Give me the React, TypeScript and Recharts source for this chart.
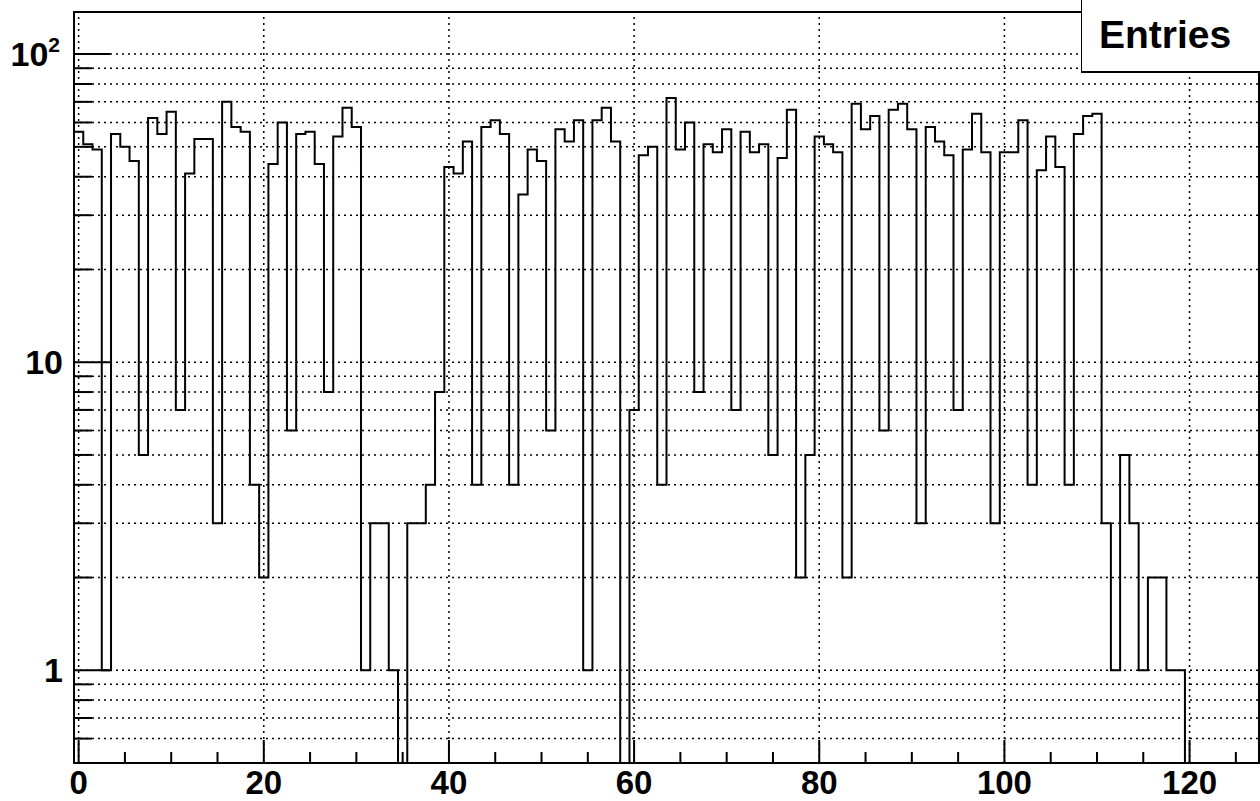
import React from 'react';
import { ComposedChart, Line, XAxis, YAxis, CartesianGrid, ReferenceLine, ReferenceArea } from 'recharts';

// Bin contents (bins of width 1 centred on 0..127)
const counts: number[] = [
  56, 51, 49, 1, 55, 50, 45, 5, 62, 55,
  65, 7, 41, 53, 53, 3, 70, 58, 56, 4,
  2, 44, 60, 6, 55, 56, 44, 8, 54, 67,
  58, 1, 3, 3, 1, 0, 3, 3, 4, 8,
  43, 41, 52, 4, 58, 61, 55, 4, 35, 49,
  45, 6, 57, 52, 61, 1, 61, 67, 52, 0,
  7, 47, 50, 4, 72, 49, 60, 8, 51, 48,
  57, 7, 56, 48, 51, 5, 46, 66, 2, 5,
  54, 51, 48, 2, 69, 57, 63, 6, 66, 69,
  57, 3, 58, 52, 47, 7, 49, 64, 48, 3,
  48, 48, 61, 4, 42, 54, 43, 4, 55, 63,
  64, 3, 1, 5, 3, 1, 2, 2, 1, 1,
  0, 0, 0, 0, 0, 0, 0, 0,
];

const X_MIN = -0.5;
const X_MAX = 127.5;
const BIN_WIDTH = 1;
const Y_MIN = 0.5;
const Y_MAX = 137;
const EMPTY_FLOOR = 0.1; // empty bins drawn below the frame (clipped)

const xTicks = [0, 5, 10, 15, 20, 25, 30, 35, 40, 45, 50, 55, 60, 65, 70, 75, 80, 85, 90, 95, 100, 105, 110, 115, 120, 125];
const xMajorTicks = [0, 20, 40, 60, 80, 100, 120];
const yTicks = [0.6, 0.7, 0.8, 0.9, 1, 2, 3, 4, 5, 6, 7, 8, 9, 10, 20, 30, 40, 50, 60, 70, 80, 90, 100];
const yMajorTicks = [1, 10, 100];

const rows = counts.map((c, i) => ({ x: X_MIN + i * BIN_WIDTH, y: c > 0 ? c : EMPTY_FLOOR }));
rows.push({ x: X_MAX, y: counts[counts.length - 1] > 0 ? counts[counts.length - 1] : EMPTY_FLOOR });

const FONT = '"Liberation Sans", Arial, Helvetica, sans-serif';

const XTick = (props: any) => {
  const { x, y, payload } = props;
  const v = payload.value;
  const major = xMajorTicks.includes(v);
  return (
    <g>
      <line x1={x} x2={x} y1={y} y2={y - (major ? 23 : 11)} stroke="#000" strokeWidth={2} />
      {major && (
        <text x={x} y={y + 31} textAnchor="middle" fontFamily={FONT} fontWeight="bold" fontSize={33} fill="#000">
          {v}
        </text>
      )}
    </g>
  );
};

const YTick = (props: any) => {
  const { x, y, payload } = props;
  const v = payload.value;
  const major = yMajorTicks.includes(v);
  let label: React.ReactNode = null;
  if (v === 100) {
    label = (
      <text x={x - 14} y={y + 12} textAnchor="end" fontFamily={FONT} fontWeight="bold" fontSize={34} fill="#000">
        10
        <tspan fontSize={21} dy={-14}>2</tspan>
      </text>
    );
  } else if (major) {
    label = (
      <text x={x - 11} y={y + 12} textAnchor="end" fontFamily={FONT} fontWeight="bold" fontSize={34} fill="#000">
        {v}
      </text>
    );
  }
  return (
    <g>
      <line x1={x} x2={x + (major ? 36 : 18)} y1={y} y2={y} stroke="#000" strokeWidth={2} />
      {label}
    </g>
  );
};

export default function App() {
  return (
    <div style={{ position: 'absolute', left: 0, top: 0, width: 1260, height: 801, background: '#fff' }}>
      <ComposedChart
        width={1260}
        height={801}
        data={rows}
        margin={{ top: 12, right: 1, bottom: 0, left: 0 }}
      >
        <CartesianGrid vertical={false} stroke="#000" strokeWidth={1.5} strokeDasharray="2 4" />
        {xMajorTicks.map((t) => (
          <ReferenceLine key={t} x={t} stroke="#000" strokeWidth={1.5} strokeDasharray="2 4" />
        ))}
        <XAxis
          dataKey="x"
          type="number"
          domain={[X_MIN, X_MAX]}
          ticks={xTicks}
          interval={0}
          allowDataOverflow
          height={38}
          tickSize={0}
          tickMargin={0}
          tickLine={false}
          axisLine={false}
          tick={<XTick />}
        />
        <YAxis
          type="number"
          scale="log"
          domain={[Y_MIN, Y_MAX]}
          ticks={yTicks}
          interval={0}
          allowDataOverflow
          width={74}
          tickSize={0}
          tickMargin={0}
          tickLine={false}
          axisLine={false}
          tick={<YTick />}
        />
        <Line
          dataKey="y"
          type="stepAfter"
          stroke="#000"
          strokeWidth={2}
          dot={false}
          activeDot={false}
          isAnimationActive={false}
        />
        <ReferenceArea x1={X_MIN} x2={X_MAX} y1={Y_MIN} y2={Y_MAX} fill="none" stroke="#000" strokeWidth={2} />
      </ComposedChart>
      <svg style={{ position: 'absolute', left: 1081, top: 0 }} width={179} height={73}>
        <rect x={0} y={-2} width={182} height={74} fill="#fff" stroke="#000" strokeWidth={2} />
        <text x={84} y={48} textAnchor="middle" fontFamily={FONT} fontWeight="bold" fontSize={39} fill="#000">
          Entries
        </text>
      </svg>
    </div>
  );
}
